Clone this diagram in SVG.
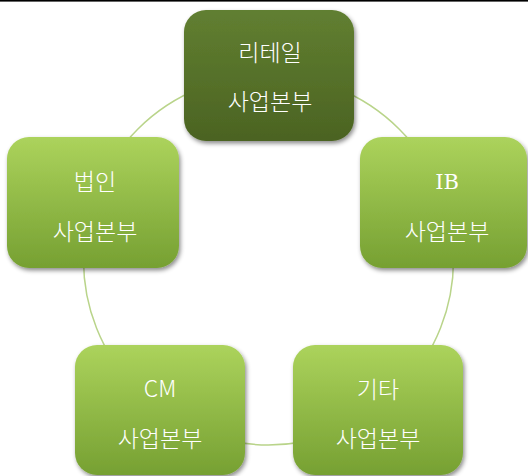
<svg xmlns="http://www.w3.org/2000/svg" width="528" height="476" viewBox="0 0 528 476">
<defs>
<linearGradient id="gLight" x1="0" y1="0" x2="0" y2="1">
<stop offset="0" stop-color="#acd35c"/>
<stop offset="1" stop-color="#76a032"/>
</linearGradient>
<linearGradient id="gDark" x1="0" y1="0" x2="0" y2="1">
<stop offset="0" stop-color="#617f31"/>
<stop offset="1" stop-color="#4b6322"/>
</linearGradient>
<filter id="sh" x="-10%" y="-10%" width="125%" height="125%">
<feDropShadow dx="1.5" dy="2.5" stdDeviation="2" flood-color="#000" flood-opacity="0.45"/>
</filter>
</defs>
<style>
.box{filter:url(#sh);}
.light{fill:url(#gLight);}
.dark{fill:url(#gDark);}
.t{font-family:"Noto Sans CJK KR","Noto Sans",sans-serif;font-size:23px;font-weight:300;fill:#ffffff;text-anchor:middle;}
.serif{font-family:"DejaVu Serif","Noto Sans CJK KR",serif;font-size:21px;}
.conn{fill:none;stroke:#b9d48a;stroke-width:1.5;}
</style>
<rect x="0" y="0" width="528" height="476" fill="#ffffff"/>
<rect x="0" y="0" width="528" height="1.6" fill="#000000"/>
<g id="connectors">
<circle class="conn" cx="268.5" cy="260" r="185"/>
</g>
<g id="n-retail">
<rect class="box dark" x="184" y="10" width="170" height="131" rx="22"/>
<text class="t" x="270" y="61">리테일</text>
<text class="t" x="270" y="110">사업본부</text>
</g>
<g id="n-ib">
<rect class="box light" x="360" y="137" width="167" height="131" rx="22"/>
<text class="t serif" x="447" y="189">IB</text>
<text class="t" x="447" y="240">사업본부</text>
</g>
<g id="n-other">
<rect class="box light" x="293" y="345" width="170" height="130" rx="22"/>
<text class="t" x="378" y="398">기타</text>
<text class="t" x="378" y="447">사업본부</text>
</g>
<g id="n-cm">
<rect class="box light" x="75" y="345" width="170" height="130" rx="22"/>
<text class="t" x="160" y="397">CM</text>
<text class="t" x="160" y="447">사업본부</text>
</g>
<g id="n-corp">
<rect class="box light" x="7" y="137" width="172" height="131" rx="22"/>
<text class="t" x="95" y="190">법인</text>
<text class="t" x="95" y="240">사업본부</text>
</g>
</svg>
